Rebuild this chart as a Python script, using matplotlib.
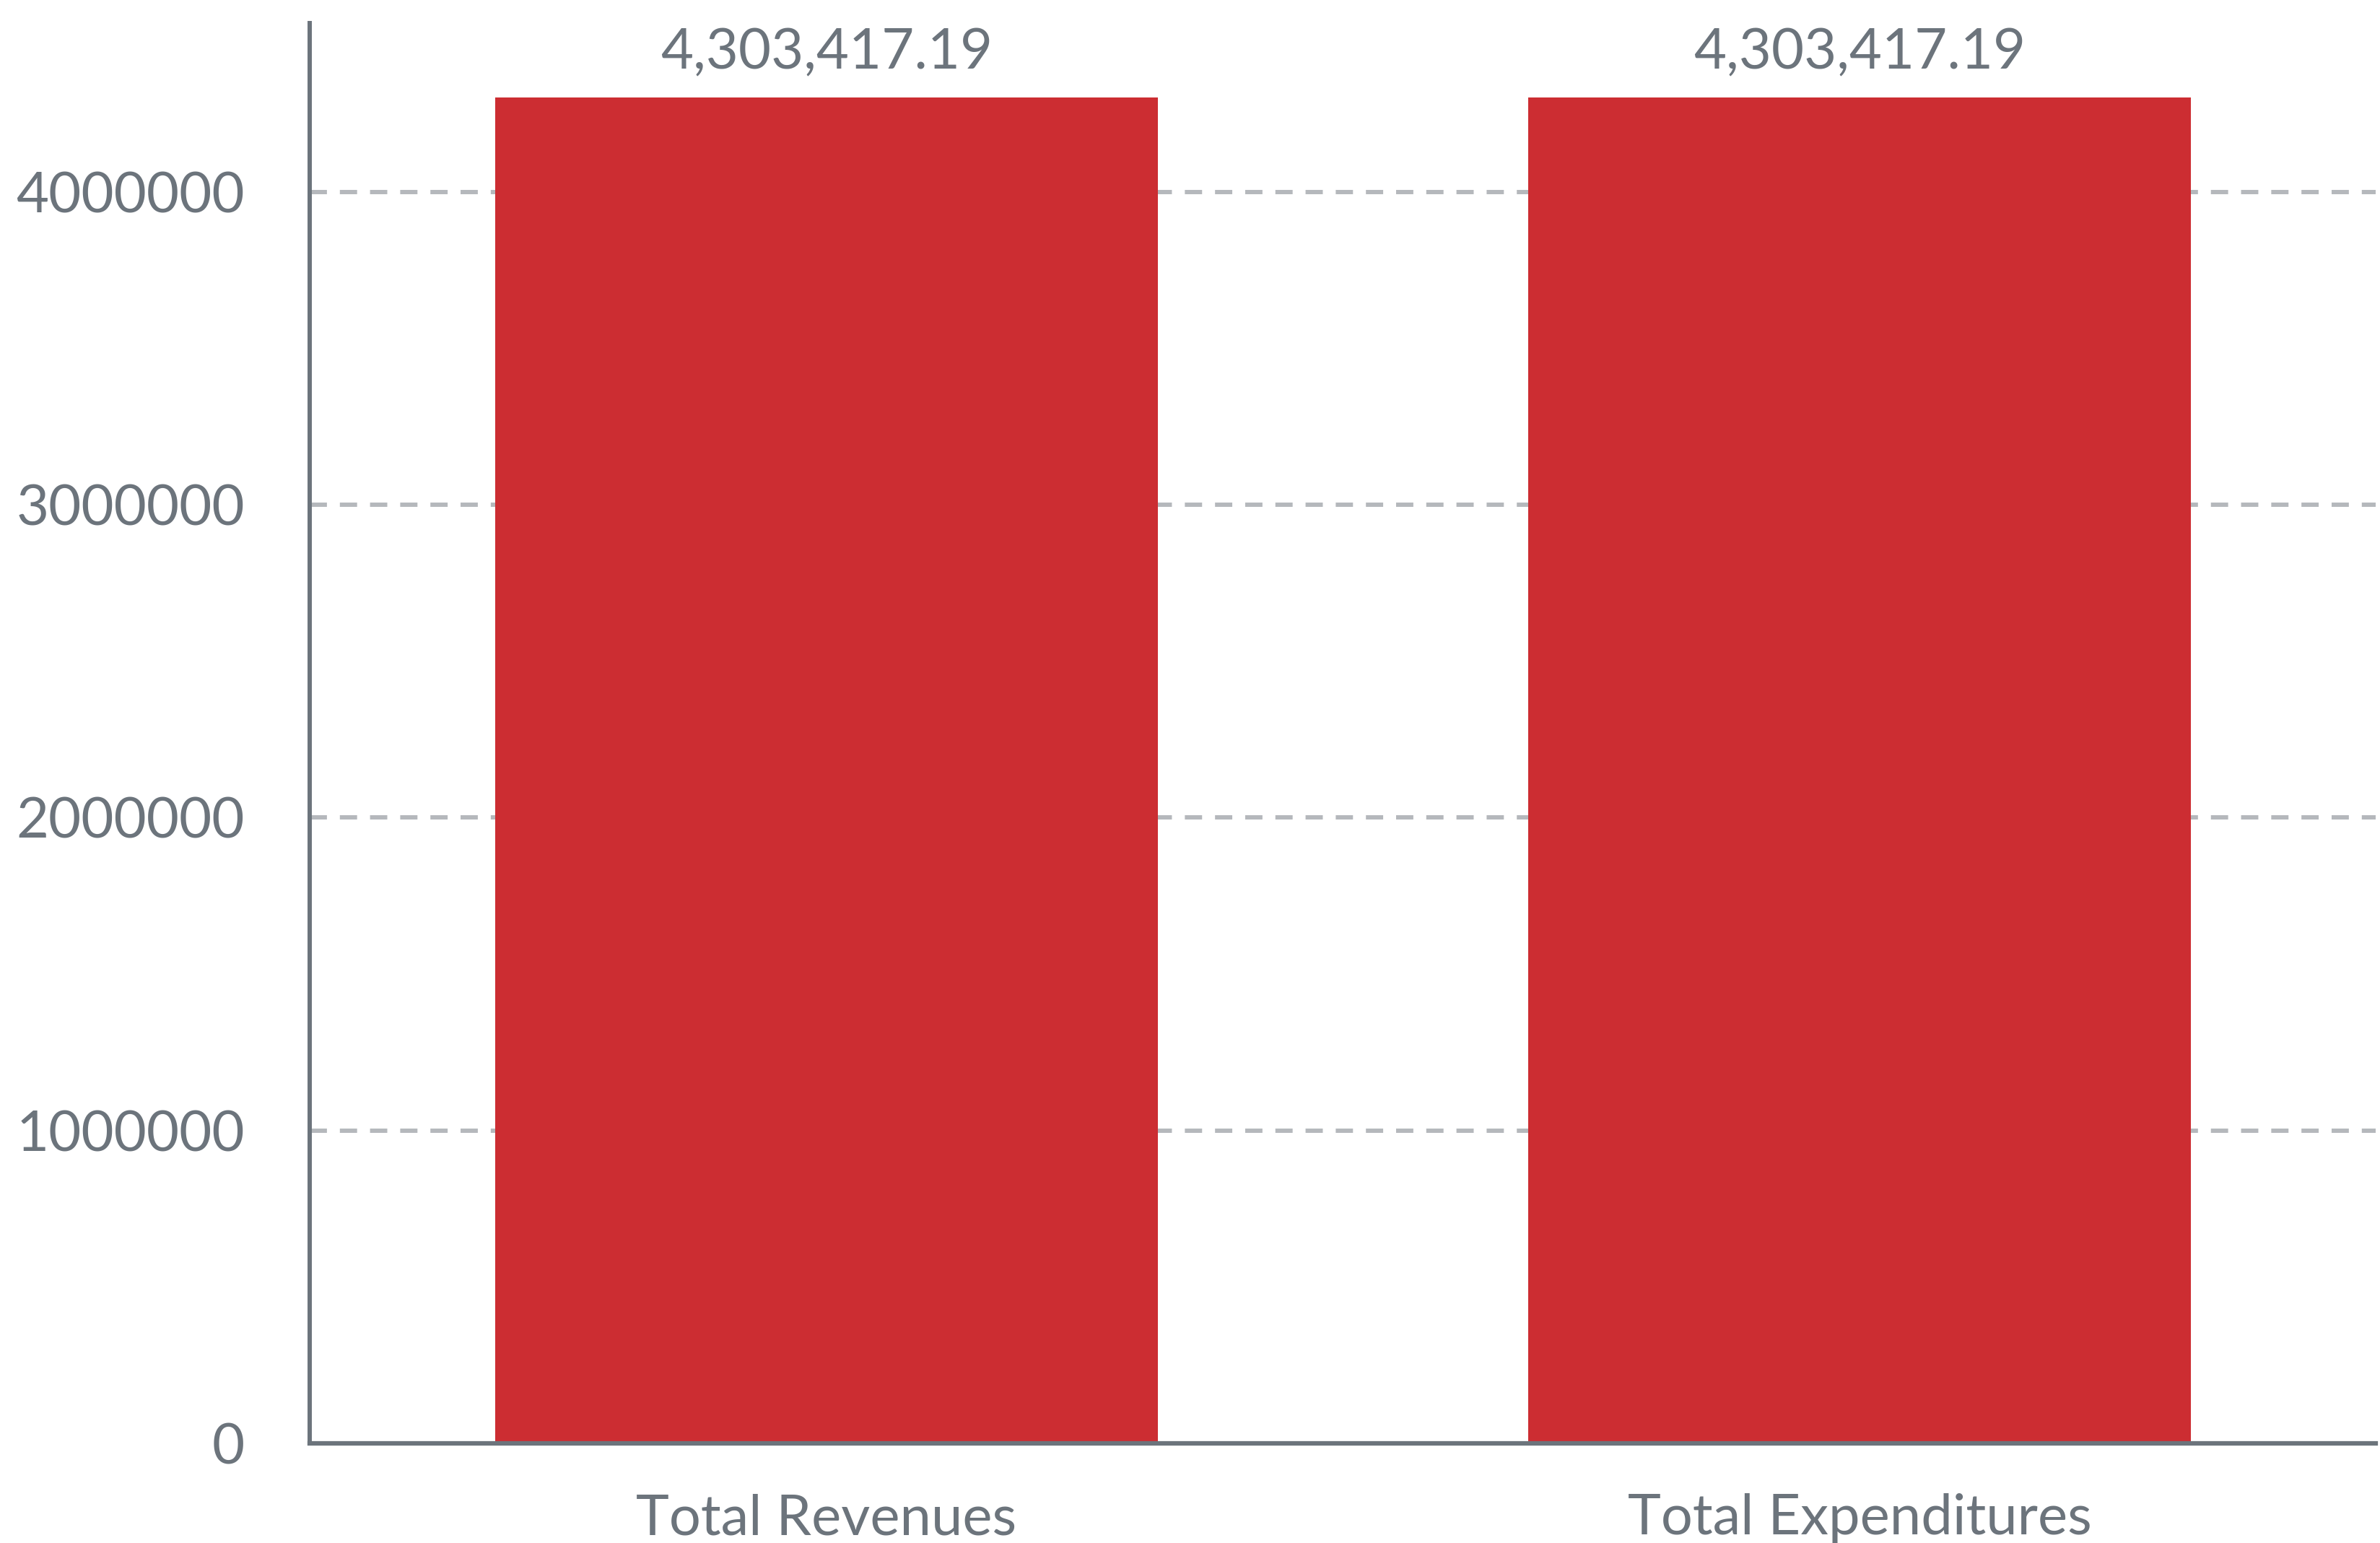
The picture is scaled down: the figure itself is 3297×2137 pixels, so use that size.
import matplotlib
matplotlib.use("Agg")
import matplotlib.pyplot as plt

categories = ["Total Revenues", "Total Expenditures"]
values = [4303417.19, 4303417.19]
yticks = [0, 1000000, 2000000, 3000000, 4000000]

TEXT = "#6c747c"
BAR = "#cc2d32"
GRID = "#b5b8bc"

plt.rcParams['font.family'] = ['Lato', 'DejaVu Sans']

fig = plt.figure(figsize=(32.98, 21.37), dpi=100)
ax = fig.add_axes([0.1302, 0.0646, 0.8678, 0.9204])

x = list(range(len(categories)))
bars = ax.bar(x, values, width=0.642, color=BAR, zorder=2)
ax.set_xlim(-0.5, len(categories) - 0.5)
ax.set_ylim(0, 4.54e6)

ax.set_yticks(yticks)
ax.set_yticklabels([str(v) for v in yticks])
ax.set_xticks(x)
ax.set_xticklabels(categories)

ax.yaxis.grid(True, color=GRID, linestyle=(0, (4, 3)), linewidth=4.3, zorder=1)
ax.set_axisbelow(True)

for s in ["top", "right"]:
    ax.spines[s].set_visible(False)
ax.spines["left"].set_color(TEXT)
ax.spines["left"].set_linewidth(4.3)
ax.spines["bottom"].set_color(TEXT)
ax.spines["bottom"].set_linewidth(4.5)

ax.tick_params(axis="both", length=0, labelsize=56, labelcolor=TEXT)
ax.tick_params(axis="y", pad=65)
ax.tick_params(axis="x", pad=50)

for b, v in zip(bars, values):
    ax.annotate(f"{v:,.2f}", xy=(b.get_x() + b.get_width() / 2, v),
                xytext=(0, 18), textcoords="offset points",
                ha="center", va="bottom", fontsize=56, color=TEXT)

fig.savefig("out.png", dpi=100, facecolor="white")
